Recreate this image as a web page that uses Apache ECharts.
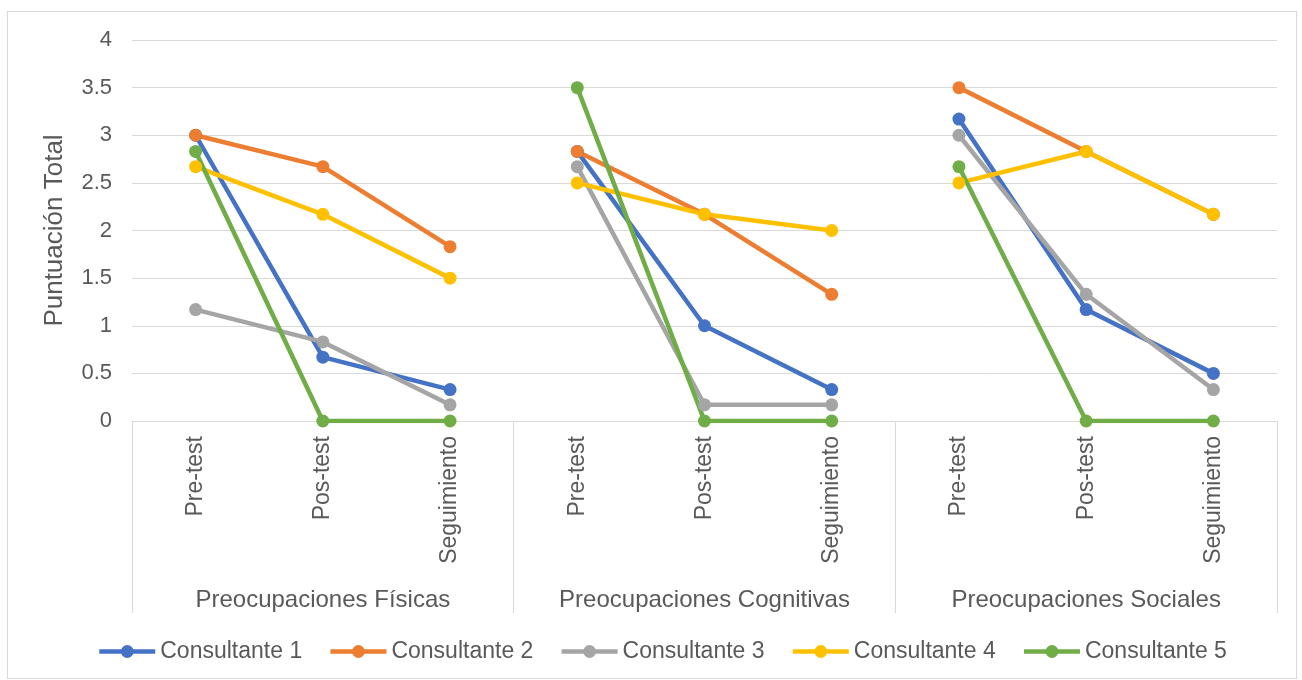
<!DOCTYPE html>
<html>
<head>
<meta charset="utf-8">
<script src="https://cdn.jsdelivr.net/npm/echarts@6/dist/echarts.min.js"></script>
<style>
  html, body { margin: 0; padding: 0; background: #fff; }
  #chart { width: 1302px; height: 680px; }
  #frame { position: absolute; left: 7px; top: 11px; width: 1288px; height: 666px; border: 1px solid #d9d9d9; pointer-events: none; }
</style>
</head>
<body>
<div id="chart"></div>
<div id="frame"></div>
<script>
// one entry per time point, repeated for each concern group
const timePoints = ['Pre-test', 'Pos-test', 'Seguimiento'];
const groups = ['Preocupaciones Físicas', 'Preocupaciones Cognitivas', 'Preocupaciones Sociales'];
const consultants = ['Consultante 1', 'Consultante 2', 'Consultante 3', 'Consultante 4', 'Consultante 5'];
const colors = ['#4472C4', '#ED7D31', '#A5A5A5', '#FFC000', '#70AD47'];

// values: Físicas (3), Cognitivas (3), Sociales (3)
const consultante1 = [3.00, 0.67, 0.33, 2.83, 1.00, 0.33, 3.17, 1.17, 0.50];
const consultante2 = [3.00, 2.67, 1.83, 2.83, 2.17, 1.33, 3.50, 2.83, 2.17];
const consultante3 = [1.17, 0.83, 0.17, 2.67, 0.17, 0.17, 3.00, 1.33, 0.33];
const consultante4 = [2.67, 2.17, 1.50, 2.50, 2.17, 2.00, 2.50, 2.83, 2.17];
const consultante5 = [2.83, 0.00, 0.00, 3.50, 0.00, 0.00, 2.67, 0.00, 0.00];
const values = [consultante1, consultante2, consultante3, consultante4, consultante5];

const categories = [];
groups.forEach(() => timePoints.forEach(t => categories.push(t)));

const textColor = '#595959';
const gridColor = '#d9d9d9';
const font = 'Liberation Sans, Arial, sans-serif';

// each group gets its own series so the lines break between groups
const series = [];
values.forEach((vals, i) => {
  groups.forEach((g, gi) => {
    const data = vals.map((v, k) => (Math.floor(k / 3) === gi ? v : null));
    series.push({
      name: consultants[i],
      type: 'line',
      data: data,
      xAxisIndex: 0,
      connectNulls: false,
      symbol: 'circle',
      symbolSize: 13,
      lineStyle: { width: 4.5, color: colors[i] },
      itemStyle: { color: colors[i] },
      emphasis: { disabled: true },
      animation: false
    });
  });
});

const chart = echarts.init(document.getElementById('chart'));
chart.setOption({
  animation: false,
  textStyle: { fontFamily: font },
  grid: { left: 132, right: 25, top: 40, bottom: 259 },
  legend: {
    data: consultants,
    left: 97,
    top: 640,
    padding: 0,
    itemWidth: 56,
    itemHeight: 16,
    itemGap: 26,
    lineStyle: { width: 4.5 },
    textStyle: { fontSize: 23, color: textColor, fontFamily: font }
  },
  xAxis: [
    {
      type: 'category',
      data: categories,
      boundaryGap: true,
      axisLine: { show: true, lineStyle: { color: gridColor, width: 1 } },
      axisTick: { show: false },
      axisLabel: { rotate: 90, margin: 15, interval: 0, fontSize: 23, color: textColor, fontFamily: font }
    },
    {
      type: 'category',
      data: groups,
      position: 'bottom',
      boundaryGap: true,
      axisLine: { show: false },
      axisTick: { show: true, length: 192, interval: 0, lineStyle: { color: gridColor, width: 1 } },
      axisLabel: { margin: 167, interval: 0, fontSize: 24, color: textColor, fontFamily: font }
    }
  ],
  yAxis: {
    type: 'value',
    min: 0,
    max: 4,
    interval: 0.5,
    name: 'Puntuación Total',
    nameLocation: 'middle',
    nameRotate: 90,
    nameGap: 64,
    nameTextStyle: { fontSize: 26, color: textColor, fontFamily: font },
    axisLine: { show: false },
    axisTick: { show: false },
    splitLine: { lineStyle: { color: gridColor, width: 1 } },
    axisLabel: { margin: 20, fontSize: 22, color: textColor, fontFamily: font }
  },
  series: series
});
</script>
</body>
</html>
